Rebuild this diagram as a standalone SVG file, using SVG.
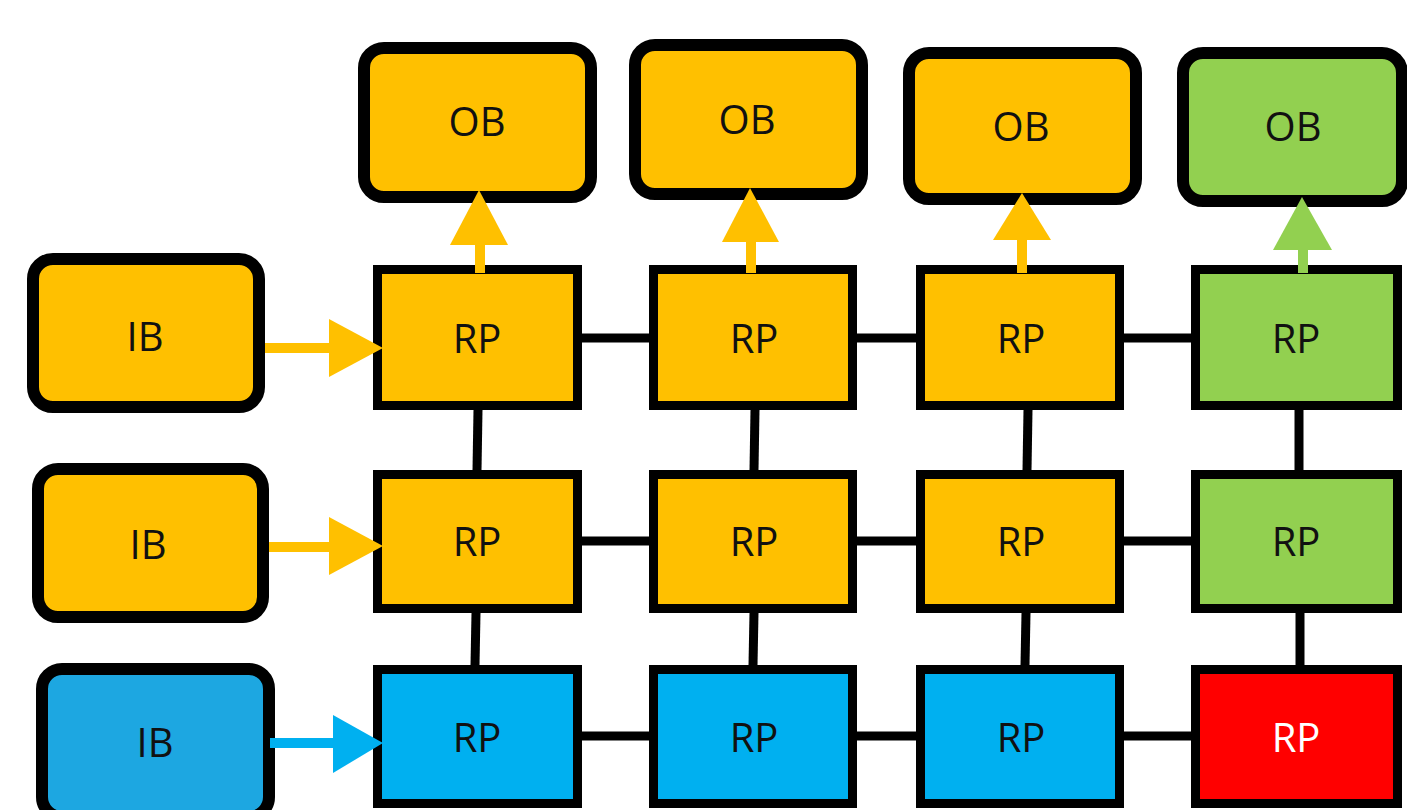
<svg xmlns="http://www.w3.org/2000/svg" width="1407" height="810" viewBox="0 0 1407 810">
<style>
.box{stroke:#000;stroke-width:12}
.rp{stroke:#000;stroke-width:9}
.or{fill:#FFC000}
.gr{fill:#92D050}
.bl{fill:#00B0F0}
.bi{fill:#1DA7E1}
.rd{fill:#FF0000}
.t{font-family:"Open Sans","Noto Sans","Liberation Sans",sans-serif;font-size:40px;text-anchor:middle;fill:#111}
.tw{fill:#fff}
.k{stroke:#000;stroke-width:9;fill:none}
</style>
<rect width="1407" height="810" fill="#fff"/>
<g id="ob1"><rect class="box or" x="364" y="48" width="227" height="149" rx="20"/><text class="t" x="477" y="136">OB</text></g>
<g id="ob2"><rect class="box or" x="635" y="45" width="227" height="149" rx="20"/><text class="t" x="747" y="134">OB</text></g>
<g id="ob3"><rect class="box or" x="909" y="53" width="227" height="146" rx="20"/><text class="t" x="1021" y="141">OB</text></g>
<g id="ob4"><rect class="box gr" x="1183" y="53" width="219" height="148" rx="20"/><text class="t" x="1293" y="141">OB</text></g>
<g id="ib1"><rect class="box or" x="33" y="259" width="226" height="148" rx="20"/><text class="t" x="145" y="351">IB</text></g>
<g id="ib2"><rect class="box or" x="38" y="469" width="225" height="148" rx="20"/><text class="t" x="148" y="559">IB</text></g>
<g id="ib3"><rect class="box bi" x="42" y="669" width="227" height="148" rx="20"/><text class="t" x="155" y="757">IB</text></g>
<g id="rp11"><rect class="rp or" x="377.5" y="269.5" width="200" height="136"/><text class="t" x="477" y="353">RP</text></g>
<g id="rp12"><rect class="rp or" x="653.5" y="269.5" width="199" height="136"/><text class="t" x="754" y="353">RP</text></g>
<g id="rp13"><rect class="rp or" x="920.5" y="269.5" width="199" height="136"/><text class="t" x="1021" y="353">RP</text></g>
<g id="rp14"><rect class="rp gr" x="1195.5" y="269.5" width="202" height="136"/><text class="t" x="1296" y="353">RP</text></g>
<g id="rp21"><rect class="rp or" x="377.5" y="474.5" width="200" height="134"/><text class="t" x="477" y="556">RP</text></g>
<g id="rp22"><rect class="rp or" x="653.5" y="474.5" width="199" height="134"/><text class="t" x="754" y="556">RP</text></g>
<g id="rp23"><rect class="rp or" x="920.5" y="474.5" width="199" height="134"/><text class="t" x="1021" y="556">RP</text></g>
<g id="rp24"><rect class="rp gr" x="1195.5" y="474.5" width="202" height="134"/><text class="t" x="1296" y="556">RP</text></g>
<g id="rp31"><rect class="rp bl" x="377.5" y="669.5" width="200" height="134"/><text class="t" x="477" y="752">RP</text></g>
<g id="rp32"><rect class="rp bl" x="653.5" y="669.5" width="199" height="134"/><text class="t" x="754" y="752">RP</text></g>
<g id="rp33"><rect class="rp bl" x="920.5" y="669.5" width="199" height="134"/><text class="t" x="1021" y="752">RP</text></g>
<g id="rp34"><rect class="rp rd" x="1195.5" y="669.5" width="202" height="134"/><text class="t tw" x="1296" y="752">RP</text></g>
<g id="connectors">
<g class="k">
<line x1="582" y1="338" x2="649" y2="338"/>
<line x1="857" y1="338" x2="916" y2="338"/>
<line x1="1124" y1="338" x2="1191" y2="338"/>
<line x1="582" y1="541" x2="649" y2="541"/>
<line x1="857" y1="541" x2="916" y2="541"/>
<line x1="1124" y1="541" x2="1191" y2="541"/>
<line x1="582" y1="736" x2="649" y2="736"/>
<line x1="857" y1="736" x2="916" y2="736"/>
<line x1="1124" y1="736" x2="1191" y2="736"/>
<line x1="478" y1="410" x2="477" y2="470"/>
<line x1="476" y1="613" x2="475" y2="665"/>
<line x1="755" y1="410" x2="754" y2="470"/>
<line x1="754" y1="613" x2="753" y2="665"/>
<line x1="1028" y1="410" x2="1027" y2="470"/>
<line x1="1026" y1="613" x2="1025" y2="665"/>
<line x1="1299" y1="410" x2="1299" y2="470"/>
<line x1="1300" y1="613" x2="1300" y2="665"/>
</g>
<line x1="480" y1="244" x2="480" y2="273" stroke="#FFC000" stroke-width="10"/>
<polygon points="450,245 508,245 479,190" fill="#FFC000"/>
<line x1="751" y1="241" x2="751" y2="273" stroke="#FFC000" stroke-width="10"/>
<polygon points="722,242 779,242 750,188" fill="#FFC000"/>
<line x1="1022" y1="239" x2="1022" y2="273" stroke="#FFC000" stroke-width="10"/>
<polygon points="993,240 1051,240 1022,193" fill="#FFC000"/>
<line x1="1303" y1="249" x2="1303" y2="273" stroke="#92D050" stroke-width="10"/>
<polygon points="1273,250 1332,250 1302,197" fill="#92D050"/>
<line x1="265" y1="348" x2="330" y2="348" stroke="#FFC000" stroke-width="10"/>
<polygon points="329,319 329,377 383,348" fill="#FFC000"/>
<line x1="269" y1="547" x2="330" y2="547" stroke="#FFC000" stroke-width="10"/>
<polygon points="329,517 329,575 383,546" fill="#FFC000"/>
<line x1="270" y1="743" x2="334" y2="743" stroke="#00B0F0" stroke-width="10"/>
<polygon points="333,715 333,773 383,743" fill="#00B0F0"/>
</g>
</svg>
